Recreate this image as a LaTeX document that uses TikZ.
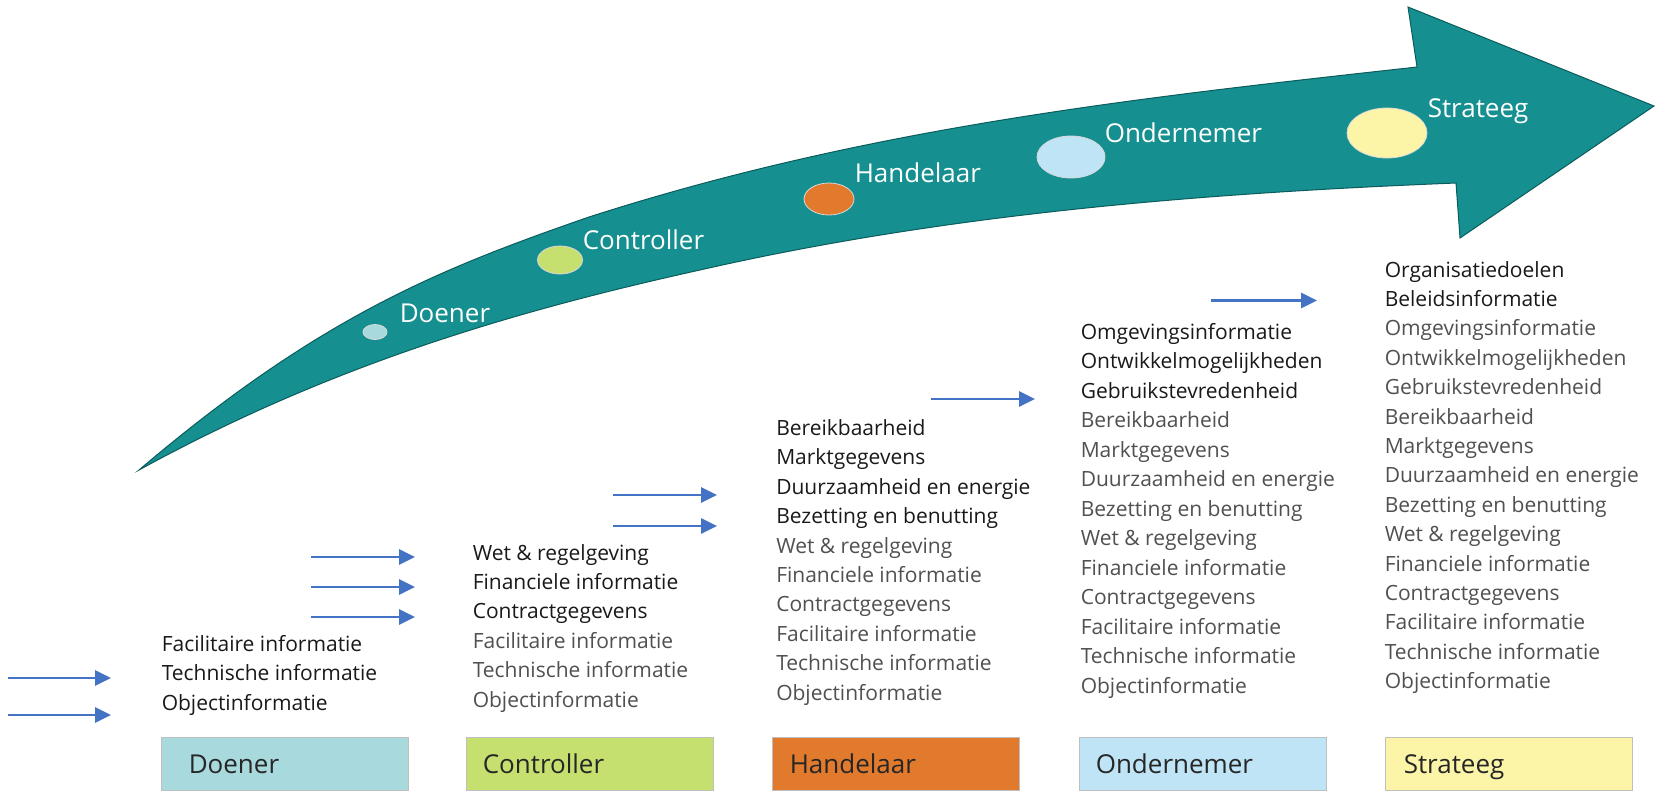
\documentclass[tikz,border=0pt]{standalone}
\usepackage{fontspec}
\setmainfont{Open Sans}
\usetikzlibrary{arrows.meta}

\definecolor{arrowteal}{RGB}{21,143,143}
\definecolor{arrowedge}{RGB}{12,92,92}
\definecolor{doenerfill}{RGB}{168,217,221}
\definecolor{controllerfill}{RGB}{198,224,112}
\definecolor{handelaarfill}{RGB}{225,122,45}
\definecolor{ondernemerfill}{RGB}{190,228,246}
\definecolor{strateegfill}{RGB}{252,245,168}
\definecolor{feedblue}{RGB}{68,114,196}
\definecolor{newtext}{RGB}{25,25,25}
\definecolor{oldtext}{RGB}{80,80,80}

\tikzset{every picture/.style={line width=0.75pt}}

\begin{document}
\begin{tikzpicture}[x=0.5pt,y=0.5pt,yscale=-1,xscale=1,
  newitem/.style={anchor=base west,inner sep=0pt,text=newtext,font=\fontsize{10.5}{12.6}\selectfont},
  olditem/.style={newitem,text=oldtext},
  stagelabel/.style={anchor=base west,inner sep=0pt,text=white,font=\fontsize{13}{15.6}\selectfont},
  boxlabel/.style={stagelabel,text=black!85},
  stagebox/.style={draw=black!25,line width=0.4pt,anchor=north west,inner sep=0pt,minimum width=123.5pt,minimum height=26.5pt},
  stagedot/.style={draw=white!85!black,line width=0.4pt},
  feedarrow/.style={draw=feedblue,line width=1.4pt,-{Triangle[length=8pt,width=7.5pt]}}
]
\path (0,0) rectangle (1659,794); %set diagram left start at 0, and has height of 794

%Curved Arrow
\draw [fill=arrowteal, draw=arrowedge, line width=0.5pt] (139,470) .. controls (319,317) and (439,269) .. (589,217) .. controls (869,127) and (1137,98) .. (1417,67) -- (1408,7) -- (1654,106) -- (1460,238) -- (1456,183) .. controls (1206,193) and (950,213) .. (700,270) .. controls (510,312) and (329,366) .. (139,470) -- cycle ;

%Shape: Ellipse (stage dots)
\draw [stagedot, fill=doenerfill] (375,332) ellipse [x radius=6pt, y radius=3.75pt] ;
\draw [stagedot, fill=controllerfill] (560,260) ellipse [x radius=11.25pt, y radius=7pt] ;
\draw [stagedot, fill=handelaarfill] (829,199) ellipse [x radius=12.5pt, y radius=8pt] ;
\draw [stagedot, fill=ondernemerfill] (1071,157) ellipse [x radius=17pt, y radius=10.5pt] ;
\draw [stagedot, fill=strateegfill] (1387,133) ellipse [x radius=20pt, y radius=12.5pt] ;

% Text Node (arrow labels)
\node [stagelabel] (arrDoener) at (399,322) {Doener};
\node [stagelabel] (arrController) at (582,249) {Controller};
\node [stagelabel] (arrHandelaar) at (854,182) {Handelaar};
\node [stagelabel] (arrOndernemer) at (1104,142) {Ondernemer};
\node [stagelabel] (arrStrateeg) at (1427,117) {Strateeg};

%Shape: Rectangle (stage boxes)
\node [stagebox, fill=doenerfill] (boxDoener) at (161,737) {};
\node [stagebox, fill=controllerfill] (boxController) at (466,737) {};
\node [stagebox, fill=handelaarfill] (boxHandelaar) at (772,737) {};
\node [stagebox, fill=ondernemerfill] (boxOndernemer) at (1079,737) {};
\node [stagebox, fill=strateegfill] (boxStrateeg) at (1385,737) {};
% Text Node
\node [boxlabel] (lblDoener) at (188,773) {Doener};
\node [boxlabel] (lblController) at (482,773) {Controller};
\node [boxlabel] (lblHandelaar) at (789,773) {Handelaar};
\node [boxlabel] (lblOndernemer) at (1095,773) {Ondernemer};
\node [boxlabel] (lblStrateeg) at (1403,773) {Strateeg};

% Text Node (information per stage)
\foreach \txt [count=\i from 0] in {Facilitaire informatie,Technische informatie,Objectinformatie}
  \node [newitem] (doe-\i) at (161,{651+29.5*\i}) {\txt};

\foreach \txt [count=\i from 0] in {Wet \& regelgeving,Financiele informatie,Contractgegevens}
  \node [newitem] (con-\i) at (472,{560+29.4*\i}) {\txt};
\foreach \txt [count=\i from 3] in {Facilitaire informatie,Technische informatie,Objectinformatie}
  \node [olditem] (con-\i) at (472,{560+29.4*\i}) {\txt};

\foreach \txt [count=\i from 0] in {Bereikbaarheid,Marktgegevens,Duurzaamheid en energie,Bezetting en benutting}
  \node [newitem] (han-\i) at (775.5,{435.5+29.4*\i}) {\txt};
\foreach \txt [count=\i from 4] in {Wet \& regelgeving,Financiele informatie,Contractgegevens,Facilitaire informatie,Technische informatie,Objectinformatie}
  \node [olditem] (han-\i) at (775.5,{435.5+29.4*\i}) {\txt};

\foreach \txt [count=\i from 0] in {Omgevingsinformatie,Ontwikkelmogelijkheden,Gebruikstevredenheid}
  \node [newitem] (ond-\i) at (1080,{339+29.5*\i}) {\txt};
\foreach \txt [count=\i from 3] in {Bereikbaarheid,Marktgegevens,Duurzaamheid en energie,Bezetting en benutting,Wet \& regelgeving,Financiele informatie,Contractgegevens,Facilitaire informatie,Technische informatie,Objectinformatie}
  \node [olditem] (ond-\i) at (1080,{339+29.5*\i}) {\txt};

\foreach \txt [count=\i from 0] in {Organisatiedoelen,Beleidsinformatie}
  \node [newitem] (str-\i) at (1384,{277+29.4*\i}) {\txt};
\foreach \txt [count=\i from 2] in {Omgevingsinformatie,Ontwikkelmogelijkheden,Gebruikstevredenheid,Bereikbaarheid,Marktgegevens,Duurzaamheid en energie,Bezetting en benutting,Wet \& regelgeving,Financiele informatie,Contractgegevens,Facilitaire informatie,Technische informatie,Objectinformatie}
  \node [olditem] (str-\i) at (1384,{277+29.4*\i}) {\txt};

%Straight Lines (new information arrows)
\foreach \xa/\xb/\ya [count=\k] in {8/111/678, 8/111/715, 311/415/557, 311/415/587, 311/415/617, 613/717/495, 613/717/526, 931/1035/399, 1211/1317/300.5}
{
  \coordinate (feedStart\k) at (\xa,\ya);
  \coordinate (feedEnd\k) at (\xb,\ya);
  \draw [feedarrow] (feedStart\k) -- (feedEnd\k);
}

\end{tikzpicture}
\end{document}
